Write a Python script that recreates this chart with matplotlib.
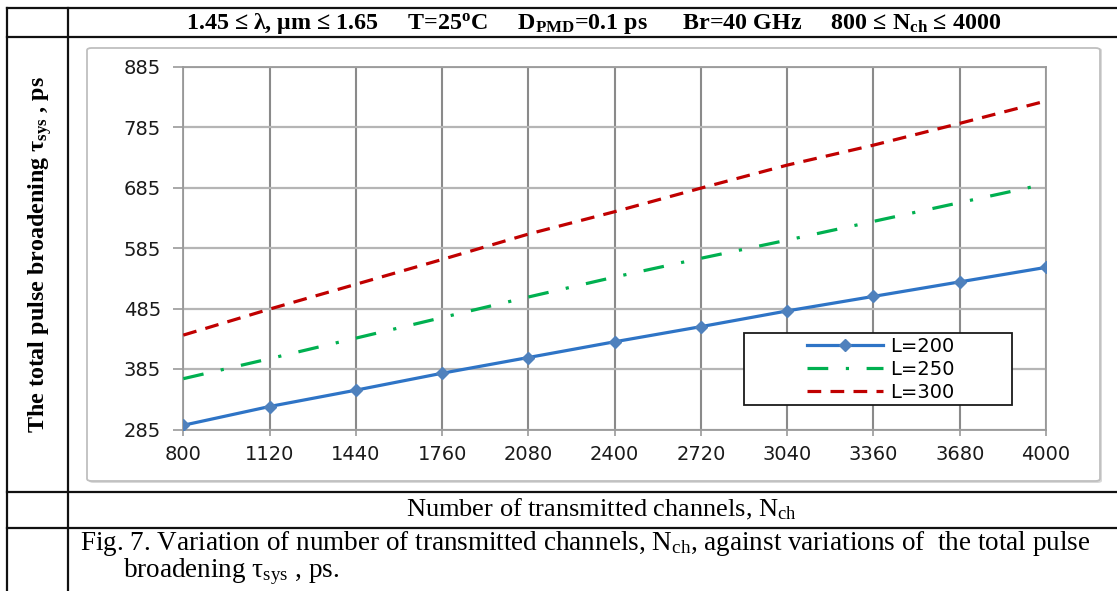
import numpy as np
import matplotlib.pyplot as plt
from matplotlib.patches import FancyBboxPatch, Rectangle
from matplotlib.lines import Line2D

plt.rcParams['mathtext.fontset'] = 'custom'
plt.rcParams['mathtext.rm'] = 'Liberation Serif'
plt.rcParams['mathtext.it'] = 'Liberation Serif:italic'
plt.rcParams['mathtext.bf'] = 'Liberation Serif:bold'

# data
n_ch = [800, 1120, 1440, 1760, 2080, 2400, 2720, 3040, 3360, 3680, 4000]
tau_200 = [292, 323, 350, 378, 404, 430, 455, 481, 505, 529, 553]
tau_250 = [369, 402, 436, 470, 504, 537, 568, 598, 629, 660, 691]
tau_300 = [441, 484, 525, 566, 608, 645, 684, 722, 755, 791, 828]
y_ticks = [285, 385, 485, 585, 685, 785, 885]
labels = ["L=200", "L=250", "L=300"]

W, H = 1117, 591
fig = plt.figure(figsize=(W/100, H/100), dpi=100)


def fx(x):
    return x / W


def fy(y):
    return 1 - y / H


# table lines around the figure
tcol = "#111111"
for y in [8, 37, 492, 528]:
    fig.add_artist(Line2D([fx(7), 1], [fy(y), fy(y)], color=tcol, lw=1.6))
for x in [7, 68]:
    fig.add_artist(Line2D([fx(x), fx(x)], [fy(8), 0], color=tcol, lw=1.6))

# chart frame with a light shadow
fig.add_artist(FancyBboxPatch((fx(89), fy(483)), fx(1013), 435/H,
                              boxstyle="round,pad=0,rounding_size=0.004",
                              transform=fig.transFigure, fc="#d9d9d9", ec="none", zorder=0))
fig.add_artist(FancyBboxPatch((fx(87), fy(481)), fx(1013), 433/H,
                              boxstyle="round,pad=0,rounding_size=0.004",
                              transform=fig.transFigure, fc="white", ec="#bfbfbf", lw=1.3, zorder=0))

ax = fig.add_axes([fx(183.3), fy(429.5), fx(1046 - 183.3), (429.5 - 66.5)/H])
ax.set_facecolor("none")

ax.plot(n_ch, tau_200, color="#2e74c6", lw=2.3, marker="D", ms=6,
        mfc="#4f81bd", mec="#4f81bd", label=labels[0], zorder=4)
ax.plot(n_ch, tau_250, color="#00b050", lw=2.3, dashes=(6.5, 5.5, 1.0, 5.5),
        label=labels[1], zorder=3)
ax.plot(n_ch, tau_300, color="#c00000", lw=2.3, dashes=(4.3, 2.9),
        label=labels[2], zorder=3)

ax.set_xlim(800, 4000)
ax.set_ylim(285, 885)
ax.set_xticks(n_ch)
ax.set_yticks(y_ticks)
ax.grid(axis="x", color="#8a8a8a", lw=1.5)
ax.grid(axis="y", color="#b5b5b5", lw=1.6)
ax.set_axisbelow(True)
for s in ax.spines.values():
    s.set_color("#9a9a9a")
    s.set_linewidth(1.3)
ax.tick_params(axis="y", length=7, width=1.2, color="#9a9a9a", pad=9,
               labelsize=14, labelcolor="#1a1a1a")
ax.tick_params(axis="x", length=4, width=1.2, color="#9a9a9a", pad=7,
               labelsize=14, labelcolor="#1a1a1a")
for t in ax.get_xticklabels() + ax.get_yticklabels():
    t.set_family("DejaVu Sans")

# legend with its own box
fig.add_artist(Rectangle((fx(744), fy(405)), fx(268), 72/H, transform=fig.transFigure,
                         fc="white", ec="#1a1a1a", lw=1.3, zorder=5))
leg = fig.legend(loc="upper left", bbox_to_anchor=(fx(803), fy(333)), frameon=False,
                 prop={"family": "DejaVu Sans", "size": 14}, handlelength=3.9,
                 handletextpad=0.4, labelspacing=0.2, borderaxespad=0, borderpad=0.2)
leg.set_zorder(6)

# texts in the table cells
fig.text(fx(594), fy(23),
         r"1.45 ≤ λ, μm ≤ 1.65     T=25$^{\mathbf{o}}$C     D$_{\mathbf{PMD}}$=0.1 ps      Br=40 GHz     800 ≤ N$_{\mathbf{ch}}$ ≤ 4000",
         ha="center", va="center", family="Liberation Serif", weight="bold", fontsize=17.3)
fig.text(fx(40), fy(255), r"The total pulse broadening τ$_{\mathbf{sys}}$ , ps", rotation=90,
         ha="center", va="center", family="Liberation Serif", weight="bold", fontsize=17.3)
fig.text(fx(601), fy(509), r"Number of transmitted channels, N$_{\mathrm{ch}}$",
         ha="center", va="center", family="Liberation Serif", fontsize=19)
fig.text(fx(80), fy(543),
         r"Fig. 7. Variation of number of transmitted channels, N$_{\mathrm{ch}}$, against variations of  the total pulse",
         ha="left", va="center", family="Liberation Serif", fontsize=19.5)
fig.text(fx(123), fy(572), r"broadening τ$_{\mathrm{sys}}$ , ps.",
         ha="left", va="center", family="Liberation Serif", fontsize=19.5)

fig.savefig("out.png", dpi=100)
